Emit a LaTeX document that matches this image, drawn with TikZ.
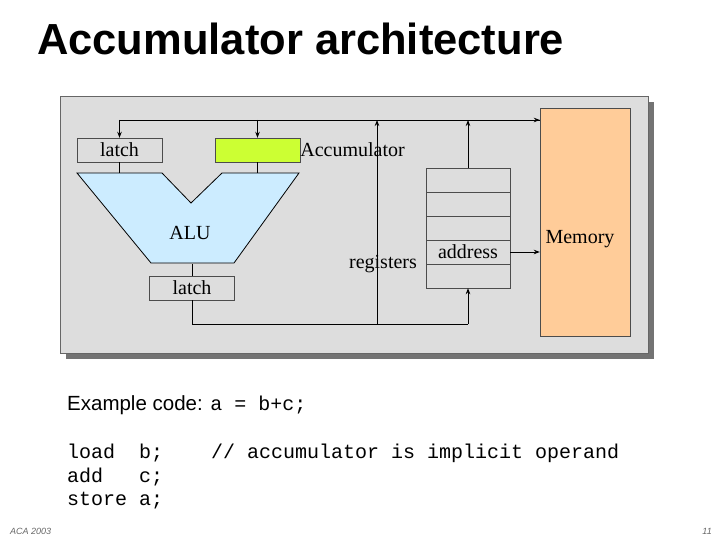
\documentclass[tikz,border=0pt]{standalone}
\usepackage{fontspec}
\setmainfont{Liberation Serif}
\newfontfamily\sansf{Liberation Sans}
\newfontfamily\monof{Liberation Mono}
\usetikzlibrary{arrows.meta}
\usetikzlibrary{positioning}
\definecolor{panelgray}{RGB}{221,221,221}
\definecolor{accgreen}{RGB}{204,255,51}
\definecolor{alublue}{RGB}{204,236,255}
\definecolor{memorange}{RGB}{255,204,153}
\tikzset{
	box/.style={draw=black!70, fill=panelgray, minimum width=85pt, minimum height=24pt, inner sep=0pt, font=\fontsize{20}{20}\selectfont},
	reg/.style={draw=black!70, fill=panelgray, minimum width=84pt, minimum height=24pt, inner sep=0pt, font=\fontsize{20}{20}\selectfont},
	lbl/.style={font=\fontsize{20}{20}\selectfont, inner sep=0pt},
	bus/.style={thick, -{Stealth[length=6pt]}},
	wire/.style={thin}
}
\begin{document}
\begin{tikzpicture}[x=1pt, y=-1pt]
			\useasboundingbox (0,0) rectangle (720,540);
			\node[anchor=west, font=\sansf\bfseries\fontsize{43.5}{43.5}\selectfont, inner sep=0pt] (title) at (37,39) {Accumulator architecture};
			
			% panel with shadow
			\fill[black!55] (66,102) rectangle (654,359);
			\draw[black!60, fill=panelgray] (60,96) rectangle (648,353);
			
			\node[box] (LatchIn) at (119.5,150) {latch};
			\node[box, fill=accgreen] (Acc) at (257.5,150) {};
			\node[lbl, anchor=west] (AccLabel) at (Acc.east) {Accumulator};
			\node[box] (LatchOut) at (192,288) {latch};
			\node[draw=black!70, fill=memorange, minimum width=90pt, minimum height=228pt, inner sep=0pt] (Memory) at (585,222) {};
			\node[lbl] (MemLabel) at (580,239) {Memory};
			
			\foreach \i/\t in {1/, 2/, 3/, 4/address, 5/}
				\node[reg] (Reg\i) at (468,156+24*\i) {\t};
			\node[lbl] (Registers) at (383,264) {registers};
			
			% ALU
			\draw[thick, fill=alublue] (77,173) -- (162,173) -- (191,203) -- (222,173) -- (299,173) -- (234,263) -- (151,263) -- cycle;
			\node[lbl] (ALU) at (190,233) {ALU};
			
			\draw[wire] (LatchIn.south) -- ++(0,11);
			\draw[wire] (Acc.south) -- ++(0,11);
			\draw[wire] (LatchOut.north) -- ++(0,-12);
			
			% buses
			\coordinate (BusR) at (Memory.west |- 0,120);
			\coordinate (BusL) at (LatchIn.north |- 0,120);
			\coordinate (Low) at (LatchOut.south |- 0,324);
			\draw[thick] (BusR) -- (BusL);
			\draw[bus] (BusL) -- (LatchIn.north);
			\draw[bus] (Acc.north |- BusR) -- (Acc.north);
			\draw[bus] (Reg1.north) -- (Reg1.north |- BusR);
			\draw[thick] (LatchOut.south) -- (Low) -- (Reg5.south |- Low);
			\draw[bus] (Reg5.south |- Low) -- (Reg5.south);
			\draw[bus] (377,324) -- (377,120);
			\draw[bus] (Reg4.east) -- (Reg4.east -| Memory.west);
			\draw[bus] (BusR) ++(-8,0) -- (BusR);
			
			% code
			\node[anchor=west, inner sep=0pt, font=\sansf\fontsize{20.5}{20.5}\selectfont] (Example) at (67,405) {Example code: {\monof\fontsize{20}{20}\selectfont a = b+c;}};
			\node[anchor=west, inner sep=0pt, font=\monof\fontsize{20}{20}\selectfont] (Load) at (67,453) {load\ \ b;};
			\node[anchor=west, inner sep=0pt, font=\monof\fontsize{20}{20}\selectfont] (Add) at (67,477) {add\ \ \ c;};
			\node[anchor=west, inner sep=0pt, font=\monof\fontsize{20}{20}\selectfont] (Store) at (67,501) {store a;};
			\node[anchor=west, inner sep=0pt, font=\monof\fontsize{20}{20}\selectfont] (Comment) at (211,453) {// accumulator is implicit operand};
			
			\node[anchor=west, inner sep=0pt, font=\sansf\itshape\fontsize{9}{9}\selectfont, text=black!60] (Footer) at (10,531) {ACA 2003};
			\node[anchor=east, inner sep=0pt, font=\sansf\itshape\fontsize{9}{9}\selectfont, text=black!60] (Page) at (712,531) {11};
		\end{tikzpicture}
\end{document}
